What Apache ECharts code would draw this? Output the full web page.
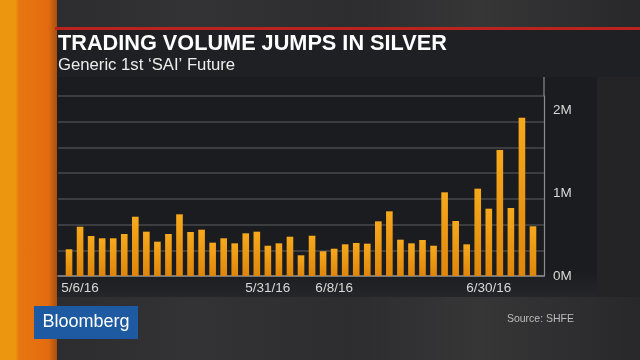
<!DOCTYPE html>
<html>
<head>
<meta charset="utf-8">
<script src="https://cdn.jsdelivr.net/npm/echarts@6/dist/echarts.min.js"></script>
<style>
  html, body { margin: 0; padding: 0; width: 640px; height: 360px; overflow: hidden; }
  body { position: relative; background: linear-gradient(to right, #2a2a2c 0%, #333335 30%, #2d2d2f 55%, #363637 75%, #28282a 100%); }
  .bg { position: absolute; }
  #strip { left: 0; top: 0; width: 57px; height: 360px;
    background: linear-gradient(to right, #ec960f 0%, #ec960f 27%, #e8760f 33%, #e46c10 84%, #a85010 100%); }
  #redline { left: 55px; top: 27px; width: 585px; height: 3px; background: #bd231e; }
  #titlepanel { left: 57px; top: 30px; width: 583px; height: 47px; background: #1f2023; }
  #chartpanel { left: 57px; top: 77px; width: 540px; height: 220px;
    background: linear-gradient(to bottom, #1b1c1f 0%, #1b1c1f 88%, #252629 100%); }
  #rightpanel { left: 597px; top: 77px; width: 43px; height: 220px; background: #242426; }
  #chart { position: absolute; left: 0; top: 0; width: 640px; height: 360px; }
</style>
</head>
<body>
<div class="bg" id="strip"></div>
<div class="bg" id="redline"></div>
<div class="bg" id="titlepanel"></div>
<div class="bg" id="chartpanel"></div>
<div class="bg" id="rightpanel"></div>
<div id="chart"></div>
<script>
// ---- data ----
const dates = [
  '5/5/16','5/6/16','5/9/16','5/10/16','5/11/16','5/12/16','5/13/16',
  '5/16/16','5/17/16','5/18/16','5/19/16','5/20/16',
  '5/23/16','5/24/16','5/25/16','5/26/16','5/27/16',
  '5/30/16','5/31/16','6/1/16','6/2/16','6/3/16',
  '6/6/16','6/7/16','6/8/16',
  '6/13/16','6/14/16','6/15/16','6/16/16','6/17/16',
  '6/20/16','6/21/16','6/22/16','6/23/16','6/24/16',
  '6/27/16','6/28/16','6/29/16','6/30/16','7/1/16',
  '7/4/16','7/5/16','7/6/16'
];
const volume = [
  323000, 596000, 484000, 456000, 456000, 508000, 717000,
  536000, 415000, 508000, 746000, 532000,
  560000, 403000, 456000, 395000, 516000,
  536000, 366000, 395000, 475000, 250000,
  487000, 299000, 330000,
  383000, 399000, 391000, 661000, 782000,
  439000, 395000, 435000, 366000, 1012000,
  665000, 383000, 1056000, 814000, 1524000,
  822000, 1914000, 601000
];
const shownDateLabels = ['5/6/16', '5/31/16', '6/8/16', '6/30/16'];
const yTickValues = [0, 1000000, 2000000];
const titleText = 'TRADING VOLUME JUMPS IN SILVER';
const subtitleText = 'Generic 1st \u2018SAI\u2019 Future';
const sourceText = 'Source: SHFE';
const logoText = 'Bloomberg';

const YMAX = 2176500;
const FONT = '"Liberation Sans", Arial, Helvetica, sans-serif';

const chart = echarts.init(document.getElementById('chart'));
chart.setOption({
  backgroundColor: 'transparent',
  animation: false,
  title: [
    { text: titleText, left: 58, top: 33, padding: 0,
      textStyle: { color: '#ffffff', fontSize: 21.7, fontWeight: 'bold', fontFamily: FONT } },
    { text: subtitleText, left: 58, top: 56.5, padding: 0,
      textStyle: { color: '#ececec', fontSize: 16.7, fontWeight: 'normal', fontFamily: FONT } },
    { text: sourceText, right: 66, top: 314, padding: 0,
      textStyle: { color: '#bdbdbd', fontSize: 10.5, fontWeight: 'normal', fontFamily: FONT } }
  ],
  graphic: [
    { type: 'group', left: 34, top: 306, z: 100, children: [
      { type: 'rect', shape: { x: 0, y: 0, width: 104, height: 33 }, style: { fill: '#1d5aa2' } },
      { type: 'text', x: 52, y: 16.5, style: { text: logoText, fill: '#ffffff', font: '18px ' + FONT,
        textAlign: 'center', textVerticalAlign: 'middle' } }
    ]},
    { type: 'line', z: 100, shape: { x1: 544, y1: 77, x2: 544, y2: 96 }, style: { stroke: '#8c8c8c', lineWidth: 1.2 } }
  ],
  grid: [
    { left: 58, right: 96, top: 96, bottom: 84 },
    { left: 63.5, right: 101.5, top: 96, bottom: 84 }
  ],
  xAxis: [
    { gridIndex: 0, type: 'value', min: 0, max: 1, position: 'bottom',
      axisLine: { show: true, onZero: false, lineStyle: { color: '#8c8c8c', width: 1.5 } },
      axisTick: { show: false }, axisLabel: { show: false }, splitLine: { show: false } },
    { gridIndex: 1, type: 'category', data: dates, boundaryGap: true,
      axisLine: { show: false }, axisTick: { show: false }, splitLine: { show: false },
      axisLabel: {
        color: '#d8d8d8', fontSize: 13.5, fontFamily: FONT, margin: 5,
        interval: function (i, v) { return shownDateLabels.indexOf(v) >= 0; }
      } }
  ],
  yAxis: [
    { gridIndex: 0, type: 'value', min: 0, max: 7, interval: 1, position: 'left',
      axisLine: { show: false }, axisTick: { show: false }, axisLabel: { show: false },
      splitLine: { show: true, lineStyle: { color: '#48494d', width: 1.5 } } },
    { gridIndex: 0, type: 'value', min: 0, max: YMAX, interval: 1000000, position: 'right',
      axisLine: { show: true, lineStyle: { color: '#8c8c8c', width: 1.2 } },
      axisTick: { show: false }, splitLine: { show: false },
      axisLabel: {
        color: '#d8d8d8', fontSize: 13.5, fontFamily: FONT, margin: 9,
        showMaxLabel: false,
        formatter: function (v) { return yTickValues.indexOf(v) >= 0 ? (v / 1000000) + 'M' : ''; }
      } },
    { gridIndex: 1, type: 'value', min: 0, max: YMAX, show: false }
  ],
  series: [
    { type: 'bar', xAxisIndex: 1, yAxisIndex: 2, data: volume, barWidth: '60%',
      itemStyle: {
        color: new echarts.graphic.LinearGradient(0, 0, 0, 1, [
          { offset: 0, color: '#f7a91c' },
          { offset: 1, color: '#de860b' }
        ])
      } }
  ]
});
</script>
</body>
</html>
